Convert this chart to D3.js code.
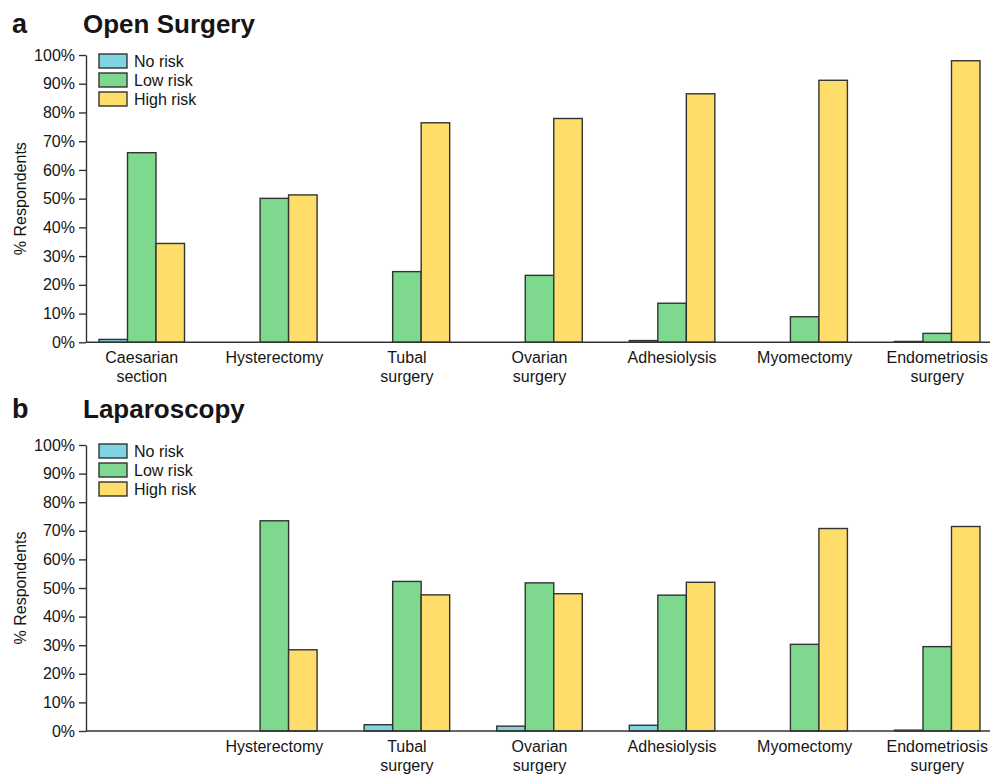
<!DOCTYPE html>
<html>
<head>
<meta charset="utf-8">
<script src="https://cdn.jsdelivr.net/npm/d3@7"></script>
<style>
  html, body { margin: 0; padding: 0; background: #fff; }
  svg text { font-family: "Liberation Sans", Arial, Helvetica, sans-serif; fill: #151515; }
</style>
</head>
<body>
<svg id="chart" width="1003" height="775"></svg>
<script>
// Procedure categories (two-line labels separated by "\n")
const categories = ["Caesarian\nsection", "Hysterectomy", "Tubal\nsurgery", "Ovarian\nsurgery",
                    "Adhesiolysis", "Myomectomy", "Endometriosis\nsurgery"];
const labelsLaparoscopy = ["", "Hysterectomy", "Tubal\nsurgery", "Ovarian\nsurgery",
                           "Adhesiolysis", "Myomectomy", "Endometriosis\nsurgery"];
const seriesNames = ["No risk", "Low risk", "High risk"];

// Open surgery (% respondents)
const openNoRisk   = [1.0, 0, 0, 0, 0.6, 0, 0.3];
const openLowRisk  = [66.0, 50.1, 24.6, 23.3, 13.6, 8.9, 3.1];
const openHighRisk = [34.4, 51.3, 76.4, 77.9, 86.5, 91.2, 98.0];

// Laparoscopy (% respondents)
const lapNoRisk   = [0, 0, 2.2, 1.7, 2.0, 0, 0.3];
const lapLowRisk  = [0, 73.5, 52.3, 51.8, 47.5, 30.3, 29.5];
const lapHighRisk = [0, 28.4, 47.6, 48.0, 52.0, 70.8, 71.5];

const yTicks = [0, 10, 20, 30, 40, 50, 60, 70, 80, 90, 100];
const colors = ["#7fd4e2", "#7ed98f", "#fedd6b"];

const svg = d3.select("#chart");
const FS = 16;

function drawPanel(opt) {
  const g = svg.append("g");
  const y = d3.scaleLinear().domain([0, 100]).range([opt.y0, opt.y100]);
  const x = d3.scaleBand().domain(d3.range(categories.length))
    .range([99, 980]).paddingInner(0.355).paddingOuter(0);
  const xs = d3.scaleBand().domain(d3.range(3)).range([0, x.bandwidth()]);

  // panel letter and title
  g.append("text").attr("x", 12).attr("y", opt.titleY)
    .attr("font-size", 27).attr("font-weight", "bold").text(opt.letter);
  g.append("text").attr("x", 83).attr("y", opt.titleY)
    .attr("font-size", 26).attr("font-weight", "bold").text(opt.title);

  // bars
  const series = opt.data;
  categories.forEach((c, i) => {
    const vals = series.map(s => s[i]);
    g.selectAll(null).data(vals.map((v, k) => ({ v, k })).filter(d => d.v > 0))
      .enter().append("rect")
      .attr("x", d => x(i) + xs(d.k))
      .attr("y", d => y(d.v))
      .attr("width", xs.bandwidth())
      .attr("height", d => y(0) - y(d.v))
      .attr("fill", d => colors[d.k])
      .attr("stroke", "#333")
      .attr("stroke-width", 1.4);
  });

  // y axis
  const yAxis = d3.axisLeft(y).tickValues(yTicks).tickFormat(d => d + "%")
    .tickSize(7).tickSizeOuter(0).tickPadding(4);
  const ya = g.append("g").attr("transform", `translate(86,0)`).call(yAxis);
  ya.select(".domain").attr("stroke", "#333").attr("stroke-width", 1.4);
  ya.selectAll(".tick line").attr("stroke", "#333").attr("stroke-width", 1.4);
  ya.selectAll(".tick text").attr("font-size", FS)
    .attr("font-family", "Liberation Sans, Arial, sans-serif").attr("fill", "#151515");

  // x axis baseline
  g.append("line").attr("x1", 86).attr("x2", 990)
    .attr("y1", y(0)).attr("y2", y(0))
    .attr("stroke", "#333").attr("stroke-width", 1.4);

  // category labels
  opt.labels.forEach((lab, i) => {
    const t = g.append("text").attr("text-anchor", "middle")
      .attr("font-size", FS)
      .attr("x", x(i) + x.bandwidth() / 2)
      .attr("y", y(0) + 21);
    lab.split("\n").forEach((line, li) => {
      t.append("tspan").attr("x", x(i) + x.bandwidth() / 2)
        .attr("dy", li === 0 ? 0 : 19).text(line);
    });
  });

  // y axis title
  g.append("text")
    .attr("transform", `translate(26,${(y(0) + y(100)) / 2}) rotate(-90)`)
    .attr("text-anchor", "middle").attr("font-size", FS)
    .text("% Respondents");

  // legend
  const lg = g.append("g").attr("transform", `translate(99,${y(100) - 1})`);
  seriesNames.forEach((n, k) => {
    lg.append("rect").attr("x", 0).attr("y", k * 19)
      .attr("width", 28).attr("height", 14)
      .attr("fill", colors[k]).attr("stroke", "#333").attr("stroke-width", 1.4);
    lg.append("text").attr("x", 35).attr("y", k * 19 + 13)
      .attr("font-size", FS).text(n);
  });
}

drawPanel({
  letter: "a", title: "Open Surgery", titleY: 33,
  y0: 342.3, y100: 55,
  labels: categories,
  data: [openNoRisk, openLowRisk, openHighRisk]
});

drawPanel({
  letter: "b", title: "Laparoscopy", titleY: 418,
  y0: 731, y100: 445,
  labels: labelsLaparoscopy,
  data: [lapNoRisk, lapLowRisk, lapHighRisk]
});
</script>
</body>
</html>
